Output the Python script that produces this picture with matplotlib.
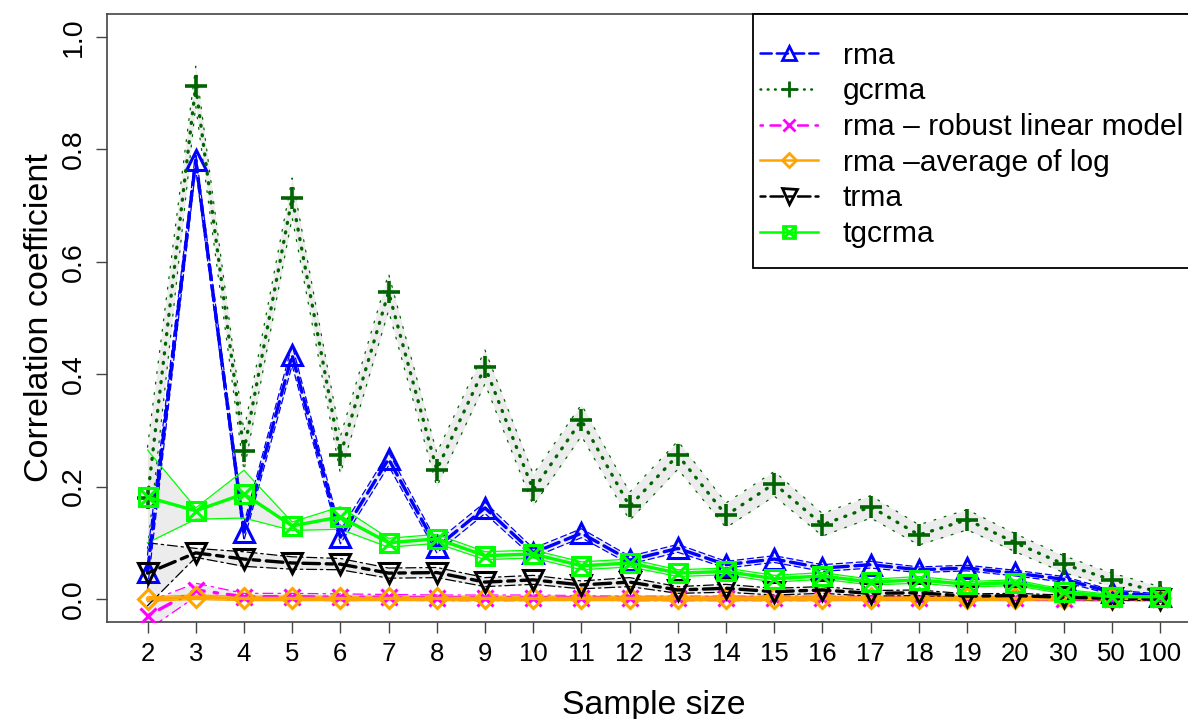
import matplotlib
matplotlib.use('Agg')
import matplotlib.pyplot as plt
from matplotlib.lines import Line2D
from matplotlib.patches import Rectangle
import numpy as np

plt.rcParams['font.family'] = ['Liberation Sans', 'DejaVu Sans']

# Sample sizes (categorical x axis)
sizes = ['2', '3', '4', '5', '6', '7', '8', '9', '10', '11', '12', '13', '14',
         '15', '16', '17', '18', '19', '20', '30', '50', '100']

# Mean correlation coefficients and their bands
rma = [0.048, 0.781, 0.119, 0.434, 0.110, 0.249, 0.092, 0.162, 0.082, 0.117, 0.069,
       0.090, 0.061, 0.071, 0.055, 0.061, 0.052, 0.055, 0.046, 0.035, 0.012, 0.005]
rma_err = [0.030, 0.015, 0.015, 0.018, 0.012, 0.012, 0.010, 0.010, 0.008, 0.008, 0.007,
           0.007, 0.006, 0.006, 0.006, 0.006, 0.005, 0.005, 0.005, 0.005, 0.004, 0.004]

gcrma = [0.180, 0.913, 0.263, 0.714, 0.256, 0.546, 0.230, 0.413, 0.194, 0.318, 0.165,
         0.256, 0.149, 0.205, 0.132, 0.164, 0.114, 0.141, 0.100, 0.062, 0.034, 0.012]
gcrma_err = [0.090, 0.035, 0.035, 0.035, 0.033, 0.033, 0.030, 0.030, 0.028, 0.028, 0.025,
             0.025, 0.022, 0.022, 0.020, 0.020, 0.018, 0.018, 0.016, 0.015, 0.012, 0.010]

rlm = [-0.030, 0.016, 0.004, 0.004, 0.003, 0.003, 0.002, 0.002, 0.002, 0.002, 0.001,
       0.001, 0.001, 0.001, 0.001, 0.001, 0.001, 0.001, 0.001, 0.000, 0.000, 0.000]
rlm_err = [0.025, 0.012, 0.006, 0.006, 0.006, 0.005, 0.005, 0.005, 0.005, 0.004, 0.004,
           0.004, 0.004, 0.004, 0.004, 0.003, 0.003, 0.003, 0.003, 0.003, 0.003, 0.003]

avg_log = [0.000, 0.003, 0.001, 0.001, 0.001, 0.001, 0.001, 0.001, 0.001, 0.001, 0.001,
           0.001, 0.001, 0.001, 0.001, 0.001, 0.001, 0.001, 0.001, 0.001, 0.001, 0.001]
avg_log_err = [0.004, 0.004, 0.004, 0.004, 0.004, 0.004, 0.004, 0.004, 0.004, 0.004, 0.004,
               0.004, 0.004, 0.004, 0.004, 0.004, 0.004, 0.004, 0.004, 0.004, 0.004, 0.004]

trma = [0.046, 0.082, 0.071, 0.064, 0.062, 0.046, 0.047, 0.030, 0.034, 0.025, 0.030,
        0.016, 0.019, 0.013, 0.016, 0.010, 0.011, 0.005, 0.006, 0.003, 0.001, 0.000]
trma_lo = [-0.012, 0.074, 0.058, 0.053, 0.052, 0.037, 0.038, 0.022, 0.026, 0.018, 0.022,
           0.010, 0.012, 0.007, 0.010, 0.005, 0.006, 0.001, 0.002, -0.001, -0.002, -0.003]
trma_hi = [0.100, 0.090, 0.084, 0.075, 0.072, 0.055, 0.056, 0.038, 0.042, 0.032, 0.038,
           0.022, 0.026, 0.019, 0.022, 0.015, 0.016, 0.009, 0.010, 0.007, 0.004, 0.003]

tgcrma = [0.181, 0.157, 0.187, 0.130, 0.146, 0.100, 0.107, 0.077, 0.080, 0.059, 0.064,
          0.046, 0.049, 0.036, 0.041, 0.030, 0.034, 0.026, 0.029, 0.013, 0.004, 0.004]
tgcrma_lo = [0.100, 0.142, 0.144, 0.122, 0.124, 0.092, 0.099, 0.070, 0.073, 0.052, 0.057,
             0.040, 0.043, 0.030, 0.035, 0.025, 0.028, 0.021, 0.024, 0.009, 0.000, 0.000]
tgcrma_hi = [0.265, 0.162, 0.229, 0.137, 0.164, 0.108, 0.115, 0.084, 0.087, 0.066, 0.071,
             0.052, 0.055, 0.042, 0.047, 0.035, 0.040, 0.031, 0.034, 0.017, 0.008, 0.008]

labels = ['rma', 'gcrma', 'rma \u2013 robust linear model', 'rma \u2013average of log',
          'trma', 'tgcrma']

x = np.arange(len(sizes))

fig = plt.figure(figsize=(11.88, 7.19), dpi=100)
ax = fig.add_axes([107 / 1188, 1 - 622 / 719, (1200.5 - 107) / 1188, (622 - 14) / 719])

band_color = '#e9e9e9'

series = [
    # mean, lower, upper, color, main linestyle, band linestyle, marker, size
    (rma, np.subtract(rma, rma_err), np.add(rma, rma_err), 'blue',
     (0, (4.5, 2)), (0, (5, 3)), '^', 14.5),
    (gcrma, np.subtract(gcrma, gcrma_err), np.add(gcrma, gcrma_err), 'darkgreen',
     (0, (0.3, 2.6)), (0, (1.5, 7)), '+', 16),
    (rlm, np.subtract(rlm, rlm_err), np.add(rlm, rlm_err), 'magenta',
     (0, (1, 3, 4, 3)), (0, (2, 4, 8, 4)), 'x', 11.5),
    (avg_log, np.subtract(avg_log, avg_log_err), np.add(avg_log, avg_log_err), 'orange',
     '-', '-', 'D', 10.2),
    (trma, trma_lo, trma_hi, 'black', (0, (2, 2, 5, 2)), (0, (8, 3, 2, 3)), 'v', 15),
    (tgcrma, tgcrma_lo, tgcrma_hi, 'lime', '-', '-', 's', 12.5),
]

handles = []
for mean, lo, hi, col, ls, bls, mk, ms in series:
    ax.fill_between(x, lo, hi, color=band_color, alpha=0.85, lw=0, zorder=1)
    ax.plot(x, lo, color=col, lw=0.9, ls=bls, zorder=2, dash_capstyle='round')
    ax.plot(x, hi, color=col, lw=0.9, ls=bls, zorder=2, dash_capstyle='round')

for mean, lo, hi, col, ls, bls, mk, ms in series:
    mew = 2.6 if mk == '+' else 2.2
    ax.plot(x, mean, color=col, lw=2.4, ls=ls, marker=mk, ms=ms,
            mfc='none', mec=col, mew=mew, zorder=3, dash_capstyle='round')
    h = Line2D([], [], color=col, lw=1.8, ls=ls, marker=mk, ms=ms * 0.72,
               mfc='none', mec=col, mew=2, dash_capstyle='round')
    if mk == 's':
        ax.plot(x, mean, ls='none', marker='x', ms=ms * 0.95, mec=col, mew=2.2, zorder=3)
        h2 = Line2D([], [], ls='none', marker='x', ms=ms * 0.68, mec=col, mew=2)
        handles.append((h, h2))
    else:
        handles.append(h)

ax.set_xlim(-0.84, 21.84)
ax.set_ylim(-0.041, 1.041)
ax.set_xticks(x)
ax.set_xticklabels(sizes)
ax.set_yticks([0.0, 0.2, 0.4, 0.6, 0.8, 1.0])
ax.set_yticklabels(['0.0', '0.2', '0.4', '0.6', '0.8', '1.0'])
ax.tick_params(axis='both', direction='out', length=8, width=1, color='#444444')
ax.tick_params(axis='x', pad=6.5, labelsize=18.5)
ax.tick_params(axis='y', pad=6.5, labelsize=20.5, labelrotation=90)
for lab in ax.get_yticklabels():
    lab.set_va('center')
for sp in ax.spines.values():
    sp.set_linewidth(1.2)
    sp.set_color('#444444')

ax.set_xlabel('Sample size', fontsize=24.3)
ax.set_ylabel('Correlation coefficient', fontsize=24.5)
ax.xaxis.set_label_coords(0.5, -0.1115)
ax.yaxis.set_label_coords(-0.0476, 0.5)

# legend box (R style, flush with the top of the plot region)
ax.add_patch(Rectangle((0.5908, 0.5822), 0.5, 0.4178, transform=ax.transAxes,
                       facecolor='white', edgecolor='black', lw=1.3,
                       clip_on=False, zorder=4))
leg = ax.legend(handles, labels, loc='upper left', bbox_to_anchor=(0.5972, 0.9543),
                fontsize=21.6, frameon=False, borderaxespad=0, borderpad=0,
                handlelength=1.93, handletextpad=0.83, labelspacing=0.255, numpoints=1)
leg.set_zorder(5)

fig.savefig('out.png', dpi=100)
